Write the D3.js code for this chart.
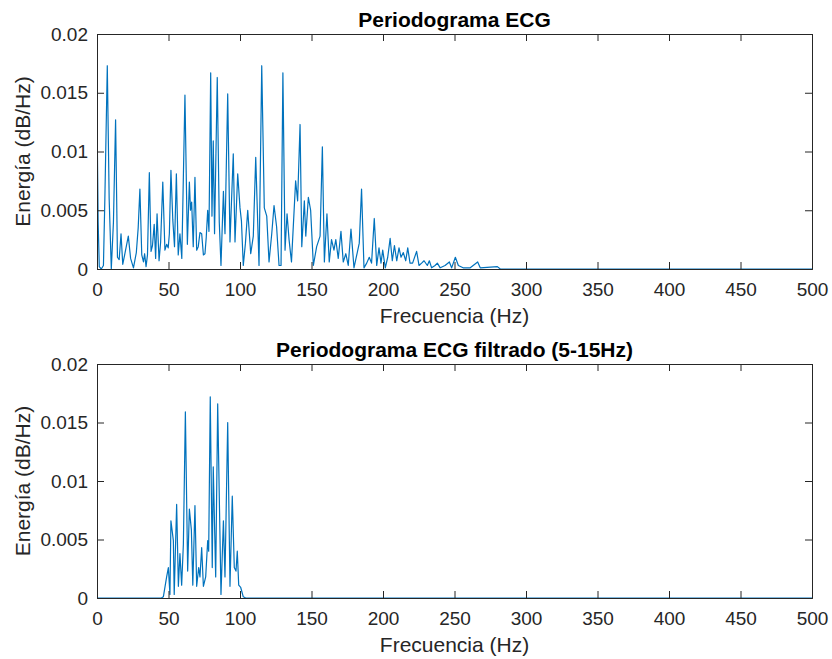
<!DOCTYPE html>
<html>
<head>
<meta charset="utf-8">
<script src="https://cdn.jsdelivr.net/npm/d3@7"></script>
<style>
  body { margin: 0; background: #fff; }
  svg { display: block; font-family: "Liberation Sans", Arial, sans-serif; }
</style>
</head>
<body>
<svg id="chart" width="832" height="659"></svg>
<script>
// Tick values and labels
const xTicks = [0, 50, 100, 150, 200, 250, 300, 350, 400, 450, 500];
const yTicks = [0, 0.005, 0.01, 0.015, 0.02];
const yTickLabels = ["0", "0.005", "0.01", "0.015", "0.02"];

// Periodograma ECG
const freqRaw = [0, 0.8, 1.6, 3, 4.5, 5.5, 7.2, 8.5, 10, 11.5, 13, 14.3, 15.5, 16.8, 18, 19.5, 21.9, 23.5, 25.5, 27.5,
  28.8, 30, 31.3, 32.5, 33.3, 34.3, 35.3, 36.6, 37.8, 38.8, 40, 41, 42, 43.4, 44.5, 46, 47.5, 48.7, 49.8, 50.6,
  51.7, 53, 54.2, 55.5, 56.8, 58, 59.3, 61.5, 63.2, 64.6, 65.4, 66.2, 67.3, 68.5, 69.7, 70.8, 72, 73.2, 74.4, 75.5,
  76.4, 77.4, 78.3, 79.5, 80.4, 81.3, 82.2, 84.1, 85.5, 86.7, 88.4, 89.5, 91.4, 93, 95.3, 96.5, 98.4, 100, 101, 102.3,
  103.8, 105.4, 107.5, 109.3, 111, 113.3, 115.2, 117, 118.7, 120.3, 122.2, 123.8, 125.6, 127.3, 128.7, 130, 131.5, 132.9, 134.3, 136,
  138.9, 140.3, 142, 143.2, 145, 146, 147.8, 149.4, 151.3, 153.6, 156, 157.6, 159, 160.8, 162.4, 164, 165.7, 167, 168.7, 170.6,
  172.2, 174, 175.7, 177.6, 179.7, 182, 183.4, 185, 186.7, 188.6, 190.4, 192, 193.9, 195.6, 197.2, 198.6, 199.8, 201.6, 203.3, 205,
  206.5, 208, 209.6, 211.2, 212.6, 214.2, 215.9, 217.3, 218.9, 220.7, 223.5, 225.2, 227, 228.7, 231, 232.4, 234, 236.4, 238, 240,
  243.4, 246.4, 248, 250.6, 252.7, 256, 261, 266.2, 268, 280, 282, 500];
const energyRaw = [0.0133, 0.004, 0.0002, 0, 0.0003, 0.006, 0.0173, 0.006, 0, 0.004, 0.0127, 0.001, 0.0008, 0.003, 0.0004, 0.0013, 0.0028, 0.0009, 0.0001, 0.0014,
  0.0035, 0.0068, 0.0012, 0.0006, 0.0013, 0.0002, 0.0012, 0.0082, 0.0015, 0.002, 0.0038, 0.0009, 0.0047, 0.0007, 0.0023, 0.0074, 0.0016, 0.0021, 0.0018, 0.003,
  0.0084, 0.0042, 0.0019, 0.0081, 0.0012, 0.003, 0.0009, 0.0148, 0.0021, 0.0074, 0.005, 0.0057, 0.0019, 0.0078, 0.0016, 0.0019, 0.0031, 0.003, 0.0012, 0.0013,
  0.0027, 0.005, 0.0032, 0.0167, 0.0045, 0.0109, 0.003, 0.0163, 0.004, 0.0003, 0.0066, 0.003, 0.0149, 0.0023, 0.0098, 0.0023, 0.0081, 0.0052, 0.0041, 0.0003,
  0.0022, 0.005, 0.0013, 0.0028, 0.0095, 0.0003, 0.0173, 0.0052, 0.0045, 0.0006, 0.003, 0.0054, 0.0036, 0.0003, 0.0003, 0.0167, 0.0016, 0.0047, 0.0025, 0.0006,
  0.0075, 0.0058, 0.0123, 0.0019, 0.0058, 0.0028, 0.0061, 0.005, 0.0003, 0.0019, 0.0028, 0.0104, 0.0006, 0.0047, 0.0006, 0.0025, 0.0016, 0.0025, 0.0009, 0.0032,
  0.0006, 0.0013, 0.0003, 0.0034, 0.0001, 0.0014, 0.0022, 0.0068, 0.0001, 0.0005, 0.001, 0.0005, 0.0043, 0.0003, 0.0018, 0.0005, 0.0016, 0.0001, 0.001, 0.0026,
  0.0007, 0.002, 0.0007, 0.0018, 0.001, 0.0014, 0.0007, 0.0018, 0.0005, 0.0005, 0.0015, 0.0003, 0.0005, 0.0007, 0.0003, 0.0007, 0.0001, 0.0003, 0.0005, 0.0001,
  0.0003, 0.0006, 0.0001, 0.001, 0.0003, 0.0001, 0.0001, 0.0006, 0.0001, 0.0002, 0, 0];

// Periodograma ECG filtrado (5-15Hz)
const freqFilt = [0, 45, 46.4, 48.7, 49.9, 51, 51.7, 53.4, 54, 55.7, 56.9, 58, 59.2, 60.4, 61.8, 63.4, 64.6, 66, 67, 68.5,
  69.7, 71.1, 72, 73.2, 74.4, 76, 77.4, 78.1, 79.2, 80.6, 81.3, 83, 84.4, 86.7, 88.4, 89.5, 91.4, 93, 94.6, 96,
  97.2, 98.1, 99.1, 100.5, 102.3, 104, 500];
const energyFilt = [0, 0, 0.0001, 0.0018, 0.0026, 0.0003, 0.0066, 0.0049, 0.0003, 0.008, 0.001, 0.0038, 0.0011, 0.0046, 0.0159, 0.0023, 0.0076, 0.0058, 0.0011, 0.0079,
  0.001, 0.0026, 0.0018, 0.0043, 0.001, 0.0018, 0.0049, 0.004, 0.0172, 0.0026, 0.0112, 0.0018, 0.0166, 0.0003, 0.0066, 0.0018, 0.015, 0.001, 0.0087, 0.0026,
  0.0023, 0.004, 0.0011, 0.0009, 0.0001, 0, 0];

const svg = d3.select("#chart");
const left = 97, right = 812;
const axisColor = "#262626";

function drawPanel(top, bottom, freq, energy, title, id) {
  const x = d3.scaleLinear().domain([0, 500]).range([left, right]);
  const y = d3.scaleLinear().domain([0, 0.02]).range([bottom, top]);
  const g = svg.append("g");

  g.append("rect")
    .attr("x", left).attr("y", top)
    .attr("width", right - left).attr("height", bottom - top)
    .attr("fill", "#fff");

  g.append("clipPath").attr("id", id)
    .append("rect")
    .attr("x", left).attr("y", top - 1)
    .attr("width", right - left).attr("height", bottom - top + 2);

  const line = d3.line().x((d, i) => x(freq[i])).y(d => y(d));
  g.append("path")
    .datum(energy)
    .attr("clip-path", `url(#${id})`)
    .attr("fill", "none")
    .attr("stroke", "#0072BD")
    .attr("stroke-width", 1.2)
    .attr("stroke-linejoin", "round")
    .attr("d", line);

  // AXES (ticks inside, mirrored on top and right)
  const xb = g.append("g").attr("transform", `translate(0,${bottom})`)
    .call(d3.axisBottom(x).tickValues(xTicks).tickSize(-7).tickPadding(14));
  g.append("g").attr("transform", `translate(0,${top})`)
    .call(d3.axisTop(x).tickValues(xTicks).tickSize(-7).tickFormat(""));
  const yl = g.append("g").attr("transform", `translate(${left},0)`)
    .call(d3.axisLeft(y).tickValues(yTicks).tickSize(-7).tickPadding(9)
      .tickFormat((d, i) => yTickLabels[i]));
  g.append("g").attr("transform", `translate(${right},0)`)
    .call(d3.axisRight(y).tickValues(yTicks).tickSize(-7).tickFormat(""));

  g.selectAll(".domain").attr("stroke", axisColor).attr("stroke-width", 1);
  g.selectAll(".tick line").attr("stroke", axisColor);
  g.selectAll(".tick text").attr("fill", axisColor).style("font-size", "19px");

  g.append("text")
    .attr("x", (left + right) / 2).attr("y", top - 7)
    .attr("text-anchor", "middle")
    .attr("fill", "#000")
    .style("font-size", "21px").style("font-weight", "bold")
    .text(title);

  g.append("text")
    .attr("x", (left + right) / 2).attr("y", bottom + 54)
    .attr("text-anchor", "middle")
    .attr("fill", axisColor)
    .style("font-size", "21px")
    .text("Frecuencia (Hz)");

  g.append("text")
    .attr("transform", `translate(30,${(top + bottom) / 2}) rotate(-90)`)
    .attr("text-anchor", "middle")
    .attr("fill", axisColor)
    .style("font-size", "21px")
    .text("Energía (dB/Hz)");
}

drawPanel(34, 269, freqRaw, energyRaw, "Periodograma ECG", "clip-top");
drawPanel(364, 598, freqFilt, energyFilt, "Periodograma ECG filtrado (5-15Hz)", "clip-bottom");
</script>
</body>
</html>
